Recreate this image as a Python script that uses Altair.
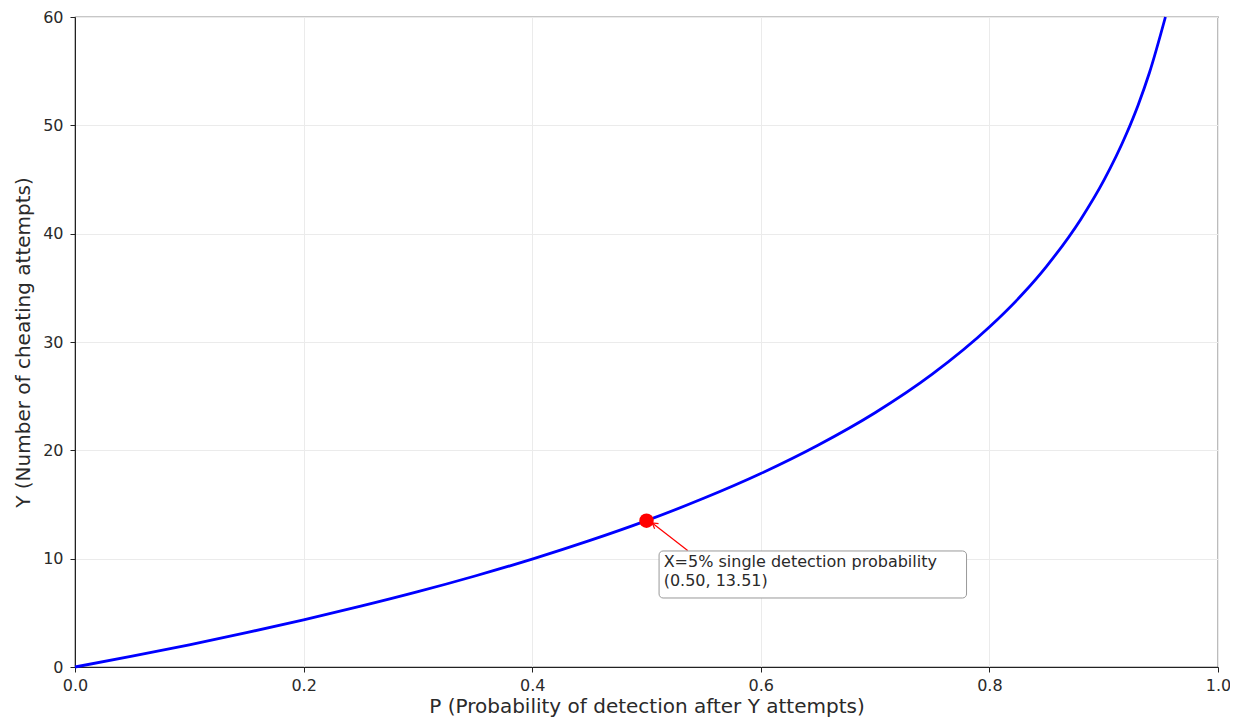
import altair as alt
import pandas as pd

# Curve values
p_vals = [0.0, 0.05, 0.1, 0.15, 0.2, 0.25, 0.3, 0.35, 0.4, 0.45, 0.5, 0.55, 0.6,
          0.65, 0.7, 0.75, 0.8, 0.83, 0.85, 0.88, 0.9, 0.92, 0.93, 0.94, 0.954]
y_vals = [0.0, 1.0, 2.05, 3.17, 4.35, 5.61, 6.95, 8.40, 9.96, 11.66, 13.51, 15.57, 17.86,
          20.47, 23.47, 27.03, 31.38, 34.54, 36.99, 41.34, 44.89, 49.24, 51.84, 54.85, 60.0]

# Annotation
mark_p = [0.5]
mark_y = [13.51]
note_lines = ["X=5% single detection probability", "(0.50, 13.51)"]
note_p = [0.515, 0.515]
note_y = [9.72, 7.92]
box_p = [0.511]
box_p2 = [0.780]
box_y = [10.71]
box_y2 = [6.37]
arrow_p = [0.536]
arrow_y = [10.75]
arrow_p2 = [0.505]
arrow_y2 = [13.3]

FONT = "DejaVu Sans"

curve = pd.DataFrame({"P": p_vals, "Y": y_vals})
xs = alt.Scale(domain=[0, 1], nice=False, zero=False)
ys = alt.Scale(domain=[0, 60], nice=False, zero=False)

common = dict(labelFont=FONT, titleFont=FONT, labelColor="#2a2a2a", titleColor="#2a2a2a",
              titleFontWeight="normal", gridColor="#ebebeb", domainColor="#222",
              tickColor="#222", labelFlush=False, tickSize=5, labelFontSize=16,
              titleFontSize=20)
xaxis = alt.Axis(values=[0, 0.2, 0.4, 0.6, 0.8, 1.0], format=".1f",
                 title="P (Probability of detection after Y attempts)",
                 labelPadding=5, titlePadding=3, **common)
yaxis = alt.Axis(values=[0, 10, 20, 30, 40, 50, 60], format="d",
                 title="Y (Number of cheating attempts)",
                 labelPadding=7, titlePadding=9, **common)

line = alt.Chart(curve).mark_line(color="#0000ff", strokeWidth=2.8, interpolate="monotone").encode(
    x=alt.X("P:Q", scale=xs, axis=xaxis),
    y=alt.Y("Y:Q", scale=ys, axis=yaxis),
)

dot = alt.Chart(pd.DataFrame({"P": mark_p, "Y": mark_y})).mark_circle(
    color="#ff0000", size=210, opacity=1).encode(x=alt.X("P:Q", scale=xs), y=alt.Y("Y:Q", scale=ys))

arrow_df = pd.DataFrame({"P": arrow_p, "Y": arrow_y, "P2": arrow_p2, "Y2": arrow_y2})
arrow = alt.Chart(arrow_df).mark_rule(color="#ff0000", strokeWidth=1.2).encode(
    x=alt.X("P:Q", scale=xs), y=alt.Y("Y:Q", scale=ys), x2="P2:Q", y2="Y2:Q")
head = alt.Chart(arrow_df).mark_point(
    shape="M -0.6 1 L 0 0 L 0.6 1", filled=False, color="#ff0000", strokeWidth=1.2,
    size=120, angle=307, opacity=1).encode(
    x=alt.X("P2:Q", scale=xs), y=alt.Y("Y2:Q", scale=ys))

box = alt.Chart(pd.DataFrame({"P": box_p, "P2": box_p2, "Y": box_y, "Y2": box_y2})).mark_rect(
    fill="white", stroke="#999", strokeWidth=1, cornerRadius=4).encode(
    x=alt.X("P:Q", scale=xs), x2="P2:Q", y=alt.Y("Y:Q", scale=ys), y2="Y2:Q")

text = alt.Chart(pd.DataFrame({"P": note_p, "Y": note_y, "t": note_lines})).mark_text(
    align="left", baseline="middle", font=FONT, fontSize=16, color="#2a2a2a").encode(
    x=alt.X("P:Q", scale=xs), y=alt.Y("Y:Q", scale=ys), text="t:N")

chart = alt.layer(line, arrow, head, dot, box, text).properties(
    width=1143, height=650,
    autosize=alt.AutoSizeParams(type="none"),
    padding={"left": 67, "top": 9, "right": 12, "bottom": 50},
).configure_view(stroke="#222", strokeWidth=1.2).configure_axis(grid=True)

chart.save("out.html", embed_options={"renderer": "svg", "actions": False})
